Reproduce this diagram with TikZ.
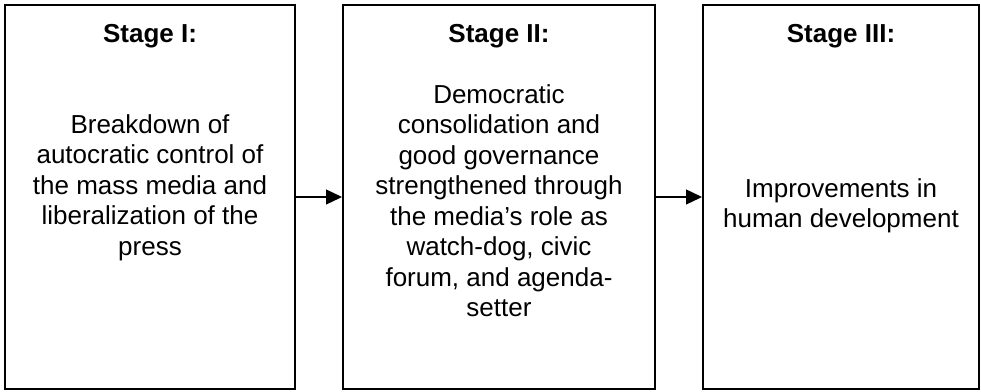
\documentclass[tikz,border=0pt]{standalone}
\usepackage{fontspec}
\setmainfont{Liberation Sans}
\usetikzlibrary{arrows.meta,positioning}
\tikzset{
    stagebox/.style = {draw, line width=2pt, inner sep=0pt, minimum height=384pt},
    stagetitle/.style = {anchor=north, inner sep=0pt, font=\bfseries\fontsize{26}{30.5}\selectfont},
    stagetext/.style = {anchor=north, inner sep=0pt, align=center, font=\fontsize{26}{30.5}\selectfont},
    flowarrow/.style = {line width=1.3pt, -{Triangle[length=16pt,width=15pt]}}
}

\begin{document}
\begin{tikzpicture}[x=1pt,y=-1pt]
    \useasboundingbox (0,0) rectangle (981,391);

    % Draw stage boxes.
    \node[stagebox, minimum width=290pt] (s1) at (150,197) {};
    \node[stagebox, minimum width=312pt] (s2) at (499,197) {};
    \node[stagebox, minimum width=276pt] (s3) at (841,197) {};

    % Label stages.
    \node[stagetitle] (s1title) at (150,24) {Stage I:};
    \node[stagetitle] (s2title) at (499,24) {Stage II:};
    \node[stagetitle] (s3title) at (841,24) {Stage III:};

    % Stage texts.
    \node[stagetext] (s1text) at (150,114) {Breakdown of\\ autocratic control of\\ the mass media and\\ liberalization of the\\ press};
    \node[stagetext] (s2text) at (499,84) {Democratic\\ consolidation and\\ good governance\\ strengthened through\\ the media’s role as\\ watch-dog, civic\\ forum, and agenda-\\ setter};
    \node[stagetext] (s3text) at (841,178) {Improvements in\\ human development};

    % Connect stages.
    \draw[flowarrow] (s1.east) -- (s2.west);
    \draw[flowarrow] (s2.east) -- (s3.west);

\end{tikzpicture}
\end{document}
